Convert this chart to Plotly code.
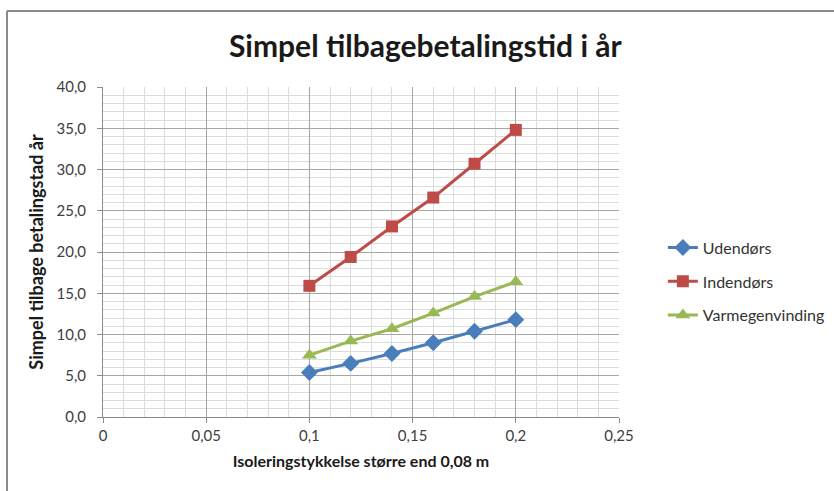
import plotly.graph_objects as go

# Insulation thickness beyond 0.08 m (m)
thickness = [0.10, 0.12, 0.14, 0.16, 0.18, 0.20]

# Simple payback time in years per installation type
udendors = [5.4, 6.5, 7.7, 9.0, 10.4, 11.8]
indendors = [15.9, 19.4, 23.1, 26.6, 30.7, 34.8]
varmegenvinding = [7.5, 9.2, 10.7, 12.6, 14.6, 16.4]

series = [
    ("Udendørs", udendors, "#4a7ebb", "diamond", 13),
    ("Indendørs", indendors, "#be4b48", "square", 12),
    ("Varmegenvinding", varmegenvinding, "#98b954", "triangle-up", 13),
]

FONT = "Lato, 'Open Sans', sans-serif"

fig = go.Figure()
for name, vals, color, symbol, size in series:
    fig.add_trace(go.Scatter(
        x=thickness, y=vals, name=name, mode="lines+markers",
        legendgroup=name,
        line=dict(color=color, width=3),
        marker=dict(symbol=symbol, size=size, color=color,
                    line=dict(width=0)),
    ))

grid_major = "#a6a6a6"
grid_minor = "#dcdcdc"

fig.update_layout(
    width=834, height=491,
    margin=dict(l=103, r=215, t=87, b=74, autoexpand=False),
    paper_bgcolor="white", plot_bgcolor="white",
    separators=", ",
    font=dict(family=FONT, color="#404040", size=15),
    title=dict(text="<b>Simpel tilbagebetalingstid i år</b>",
               x=0.51, xanchor="center", y=0.905, yanchor="middle",
               font=dict(size=30, color="#1a1a1a", family=FONT)),
    legend=dict(x=1.085, y=0.565, xanchor="left", yanchor="top",
                font=dict(size=16, color="#333333", family=FONT),
                tracegroupgap=10, itemwidth=30, bgcolor="rgba(0,0,0,0)"),
    xaxis=dict(
        range=[0, 0.25], dtick=0.05, tick0=0,
        showgrid=True, gridcolor=grid_major, gridwidth=1,
        minor=dict(dtick=0.01, showgrid=True, gridcolor=grid_minor,
                   gridwidth=1),
        showline=True, linecolor="#8c8c8c", linewidth=1,
        ticks="outside", ticklen=5, tickcolor="#8c8c8c",
        zeroline=False,
        tickfont=dict(size=15, color="#404040"),
        title=dict(text="<b>Isoleringstykkelse større end 0,08 m</b>",
                   font=dict(size=16, color="#1a1a1a"), standoff=12),
    ),
    yaxis=dict(
        range=[0, 40], dtick=5, tick0=0, tickformat=".1f",
        showgrid=True, gridcolor=grid_major, gridwidth=1,
        minor=dict(dtick=1, showgrid=True, gridcolor=grid_minor,
                   gridwidth=1),
        showline=True, linecolor="#8c8c8c", linewidth=1,
        ticks="outside", ticklen=5, tickcolor="#8c8c8c",
        ticklabelstandoff=8,
        zeroline=False,
        tickfont=dict(size=15, color="#404040"),
        title=dict(text="<b>Simpel tilbage betalingstad år</b>",
                   font=dict(size=18, color="#1a1a1a"), standoff=8),
    ),
)

# Chart frame (top and left edges visible)
fig.add_shape(type="line", xref="paper", yref="paper",
              x0=-96 / 516, x1=1 + 215 / 516, y0=1 + 76 / 330, y1=1 + 76 / 330,
              line=dict(color="#8a8a8a", width=2))
fig.add_shape(type="line", xref="paper", yref="paper",
              x0=-96 / 516, x1=-96 / 516, y0=1 + 76 / 330, y1=-74 / 330,
              line=dict(color="#8a8a8a", width=2))

fig.write_html("out.html")
